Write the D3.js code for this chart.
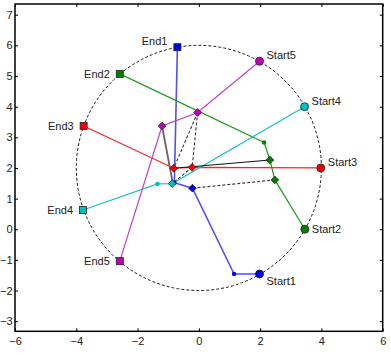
<!DOCTYPE html>
<html>
<head>
<meta charset="utf-8">
<script src="https://cdn.jsdelivr.net/npm/d3@7"></script>
<style>
  body { margin: 0; background: #fff; }
  text { font-family: "Liberation Sans", Arial, sans-serif; }
</style>
</head>
<body>
<script>
// start / end points on the circle
const startNames = ["Start1", "Start2", "Start3", "Start4", "Start5"];
const startX = [1.98, 3.46, 3.98, 3.45, 1.98];
const startY = [-1.46, 0.0, 2.0, 4.0, 5.48];
const endNames = ["End1", "End2", "End3", "End4", "End5"];
const endX = [-0.70, -2.58, -3.76, -3.78, -2.58];
const endY = [5.94, 5.07, 3.37, 0.63, -1.04];

// waypoints between start and end, [x, y, kind]
const mid1 = [[1.15, -1.46, "dot"], [-0.21, 1.34, "diamond"], [-0.80, 1.52, "dot"]];
const mid2 = [[2.48, 1.61, "diamond"], [2.32, 2.26, "diamond"], [2.13, 2.83, "dot"]];
const mid3 = [[-0.22, 2.02, "diamond"], [-0.82, 1.99, "diamond"]];
const mid4 = [[-0.87, 1.49, "diamond"], [-1.35, 1.48, "dot"]];
const mid5 = [[-0.04, 3.81, "diamond"], [-1.20, 3.37, "diamond"]];

// links between waypoints of different paths
const greyLinks = [[[-1.20, 3.37], [-0.85, 1.50]]];
const blackLinks = [[[-0.82, 1.99], [2.32, 2.26]]];
const dashLinks = [
  [[-0.04, 3.81], [-0.82, 1.99]],
  [[-0.04, 3.81], [-0.22, 2.02]],
  [[-0.22, 2.02], [-0.87, 1.49]],
  [[-0.21, 1.34], [2.48, 1.61]]
];

const circleCenter = [0, 2];
const circleR = 4;
const xTicks = [-6, -4, -2, 0, 2, 4, 6];
const yTicks = [-3, -2, -1, 0, 1, 2, 3, 4, 5, 6, 7];

const lineColors = ["#5050f5", "#229922", "#ff2020", "#20c0c0", "#c040c0"];
const markColors = ["#0000ee", "#008000", "#ee0000", "#00bfbf", "#bf00bf"];
const startDy = [7, 0, -6, -6, -6];
const endDy = [-6, 0, 0, 0, 0];

const W = 391, H = 356;
const x = d3.scaleLinear().domain([-6, 6]).range([15, 382.7]);
const y = d3.scaleLinear().domain([-3.33, 7.35]).range([331.3, 4]);

const svg = d3.select("body")
  .append("svg")
  .attr("width", W)
  .attr("height", H);

// dashed circle
const circ = d3.range(0, 361, 2).map(a => [
  circleCenter[0] + circleR * Math.cos(a * Math.PI / 180),
  circleCenter[1] + circleR * Math.sin(a * Math.PI / 180)
]);
const line = d3.line().x(d => x(d[0])).y(d => y(d[1]));

svg.append("path")
  .attr("d", line(circ))
  .attr("fill", "none")
  .attr("stroke", "#222")
  .attr("stroke-width", 1)
  .attr("stroke-dasharray", "3,2");

svg.selectAll(".dash")
  .data(dashLinks)
  .enter()
  .append("path")
  .attr("d", line)
  .attr("fill", "none")
  .attr("stroke", "#333")
  .attr("stroke-width", 1.1)
  .attr("stroke-dasharray", "3,2");

const mids = [mid1, mid2, mid3, mid4, mid5];
const paths = mids.map((m, i) =>
  [[startX[i], startY[i]]].concat(m.map(p => [p[0], p[1]]), [[endX[i], endY[i]]]));

svg.selectAll(".trail")
  .data(paths)
  .enter()
  .append("path")
  .attr("d", line)
  .attr("fill", "none")
  .attr("stroke", (d, i) => lineColors[i])
  .attr("stroke-width", (d, i) => i == 0 ? 1.6 : 1.2);

svg.selectAll(".grey")
  .data(greyLinks)
  .enter()
  .append("path")
  .attr("d", line)
  .attr("stroke", "#666")
  .attr("stroke-width", 1.8);

svg.selectAll(".black")
  .data(blackLinks)
  .enter()
  .append("path")
  .attr("d", line)
  .attr("stroke", "#111")
  .attr("stroke-width", 1.1);

// waypoint markers
mids.forEach((m, i) => {
  m.forEach(p => {
    if (p[2] == "diamond") {
      svg.append("path")
        .attr("d", d3.symbol(d3.symbolSquare, 30)())
        .attr("transform", `translate(${x(p[0])},${y(p[1])}) rotate(45)`)
        .attr("fill", markColors[i])
        .attr("stroke", "#222")
        .attr("stroke-width", 0.7);
    } else {
      svg.append("circle")
        .attr("cx", x(p[0]))
        .attr("cy", y(p[1]))
        .attr("r", 2.2)
        .attr("fill", markColors[i]);
    }
  });
});

// start circles and end squares
svg.selectAll(".start")
  .data(startX)
  .enter()
  .append("circle")
  .attr("cx", d => x(d))
  .attr("cy", (d, i) => y(startY[i]))
  .attr("r", 4)
  .attr("fill", (d, i) => markColors[i])
  .attr("stroke", "#222")
  .attr("stroke-width", 0.8);

svg.selectAll(".end")
  .data(endX)
  .enter()
  .append("rect")
  .attr("x", d => x(d) - 3.5)
  .attr("y", (d, i) => y(endY[i]) - 3.5)
  .attr("width", 7)
  .attr("height", 7)
  .attr("fill", (d, i) => markColors[i])
  .attr("stroke", "#222")
  .attr("stroke-width", 0.8);

svg.selectAll(".startLabel")
  .data(startNames)
  .enter()
  .append("text")
  .attr("x", (d, i) => x(startX[i]) + 7)
  .attr("y", (d, i) => y(startY[i]) + startDy[i])
  .attr("dy", "0.35em")
  .attr("font-size", 11)
  .attr("fill", "#222")
  .text(d => d);

svg.selectAll(".endLabel")
  .data(endNames)
  .enter()
  .append("text")
  .attr("x", (d, i) => x(endX[i]) - 10)
  .attr("y", (d, i) => y(endY[i]) + endDy[i])
  .attr("dy", "0.35em")
  .attr("text-anchor", "end")
  .attr("font-size", 11)
  .attr("fill", "#222")
  .text(d => d);

// frame and ticks
const x0 = x.range()[0], x1 = x.range()[1], y0 = y.range()[1], y1 = y.range()[0];

svg.append("g")
  .attr("transform", `translate(0,${y1})`)
  .call(d3.axisBottom(x).tickValues(xTicks).tickSize(-3).tickPadding(6).tickFormat(d3.format("d")))
  .call(g => g.select(".domain").remove());
svg.append("g")
  .attr("transform", `translate(0,${y0})`)
  .call(d3.axisTop(x).tickValues(xTicks).tickSize(-3).tickFormat(""))
  .call(g => g.select(".domain").remove());
svg.append("g")
  .attr("transform", `translate(${x0},0)`)
  .call(d3.axisLeft(y).tickValues(yTicks).tickSize(-3).tickPadding(2.5).tickFormat(d3.format("d")))
  .call(g => g.select(".domain").remove());
svg.append("g")
  .attr("transform", `translate(${x1},0)`)
  .call(d3.axisRight(y).tickValues(yTicks).tickSize(-3).tickFormat(""))
  .call(g => g.select(".domain").remove());

svg.selectAll(".tick text")
  .attr("font-size", 11)
  .attr("font-family", "Liberation Sans, Arial, sans-serif")
  .attr("fill", "#222");

svg.append("rect")
  .attr("x", x0)
  .attr("y", y0)
  .attr("width", x1 - x0)
  .attr("height", y1 - y0)
  .attr("fill", "none")
  .attr("stroke", "#000")
  .attr("stroke-width", 1.5);
</script>
</body>
</html>
